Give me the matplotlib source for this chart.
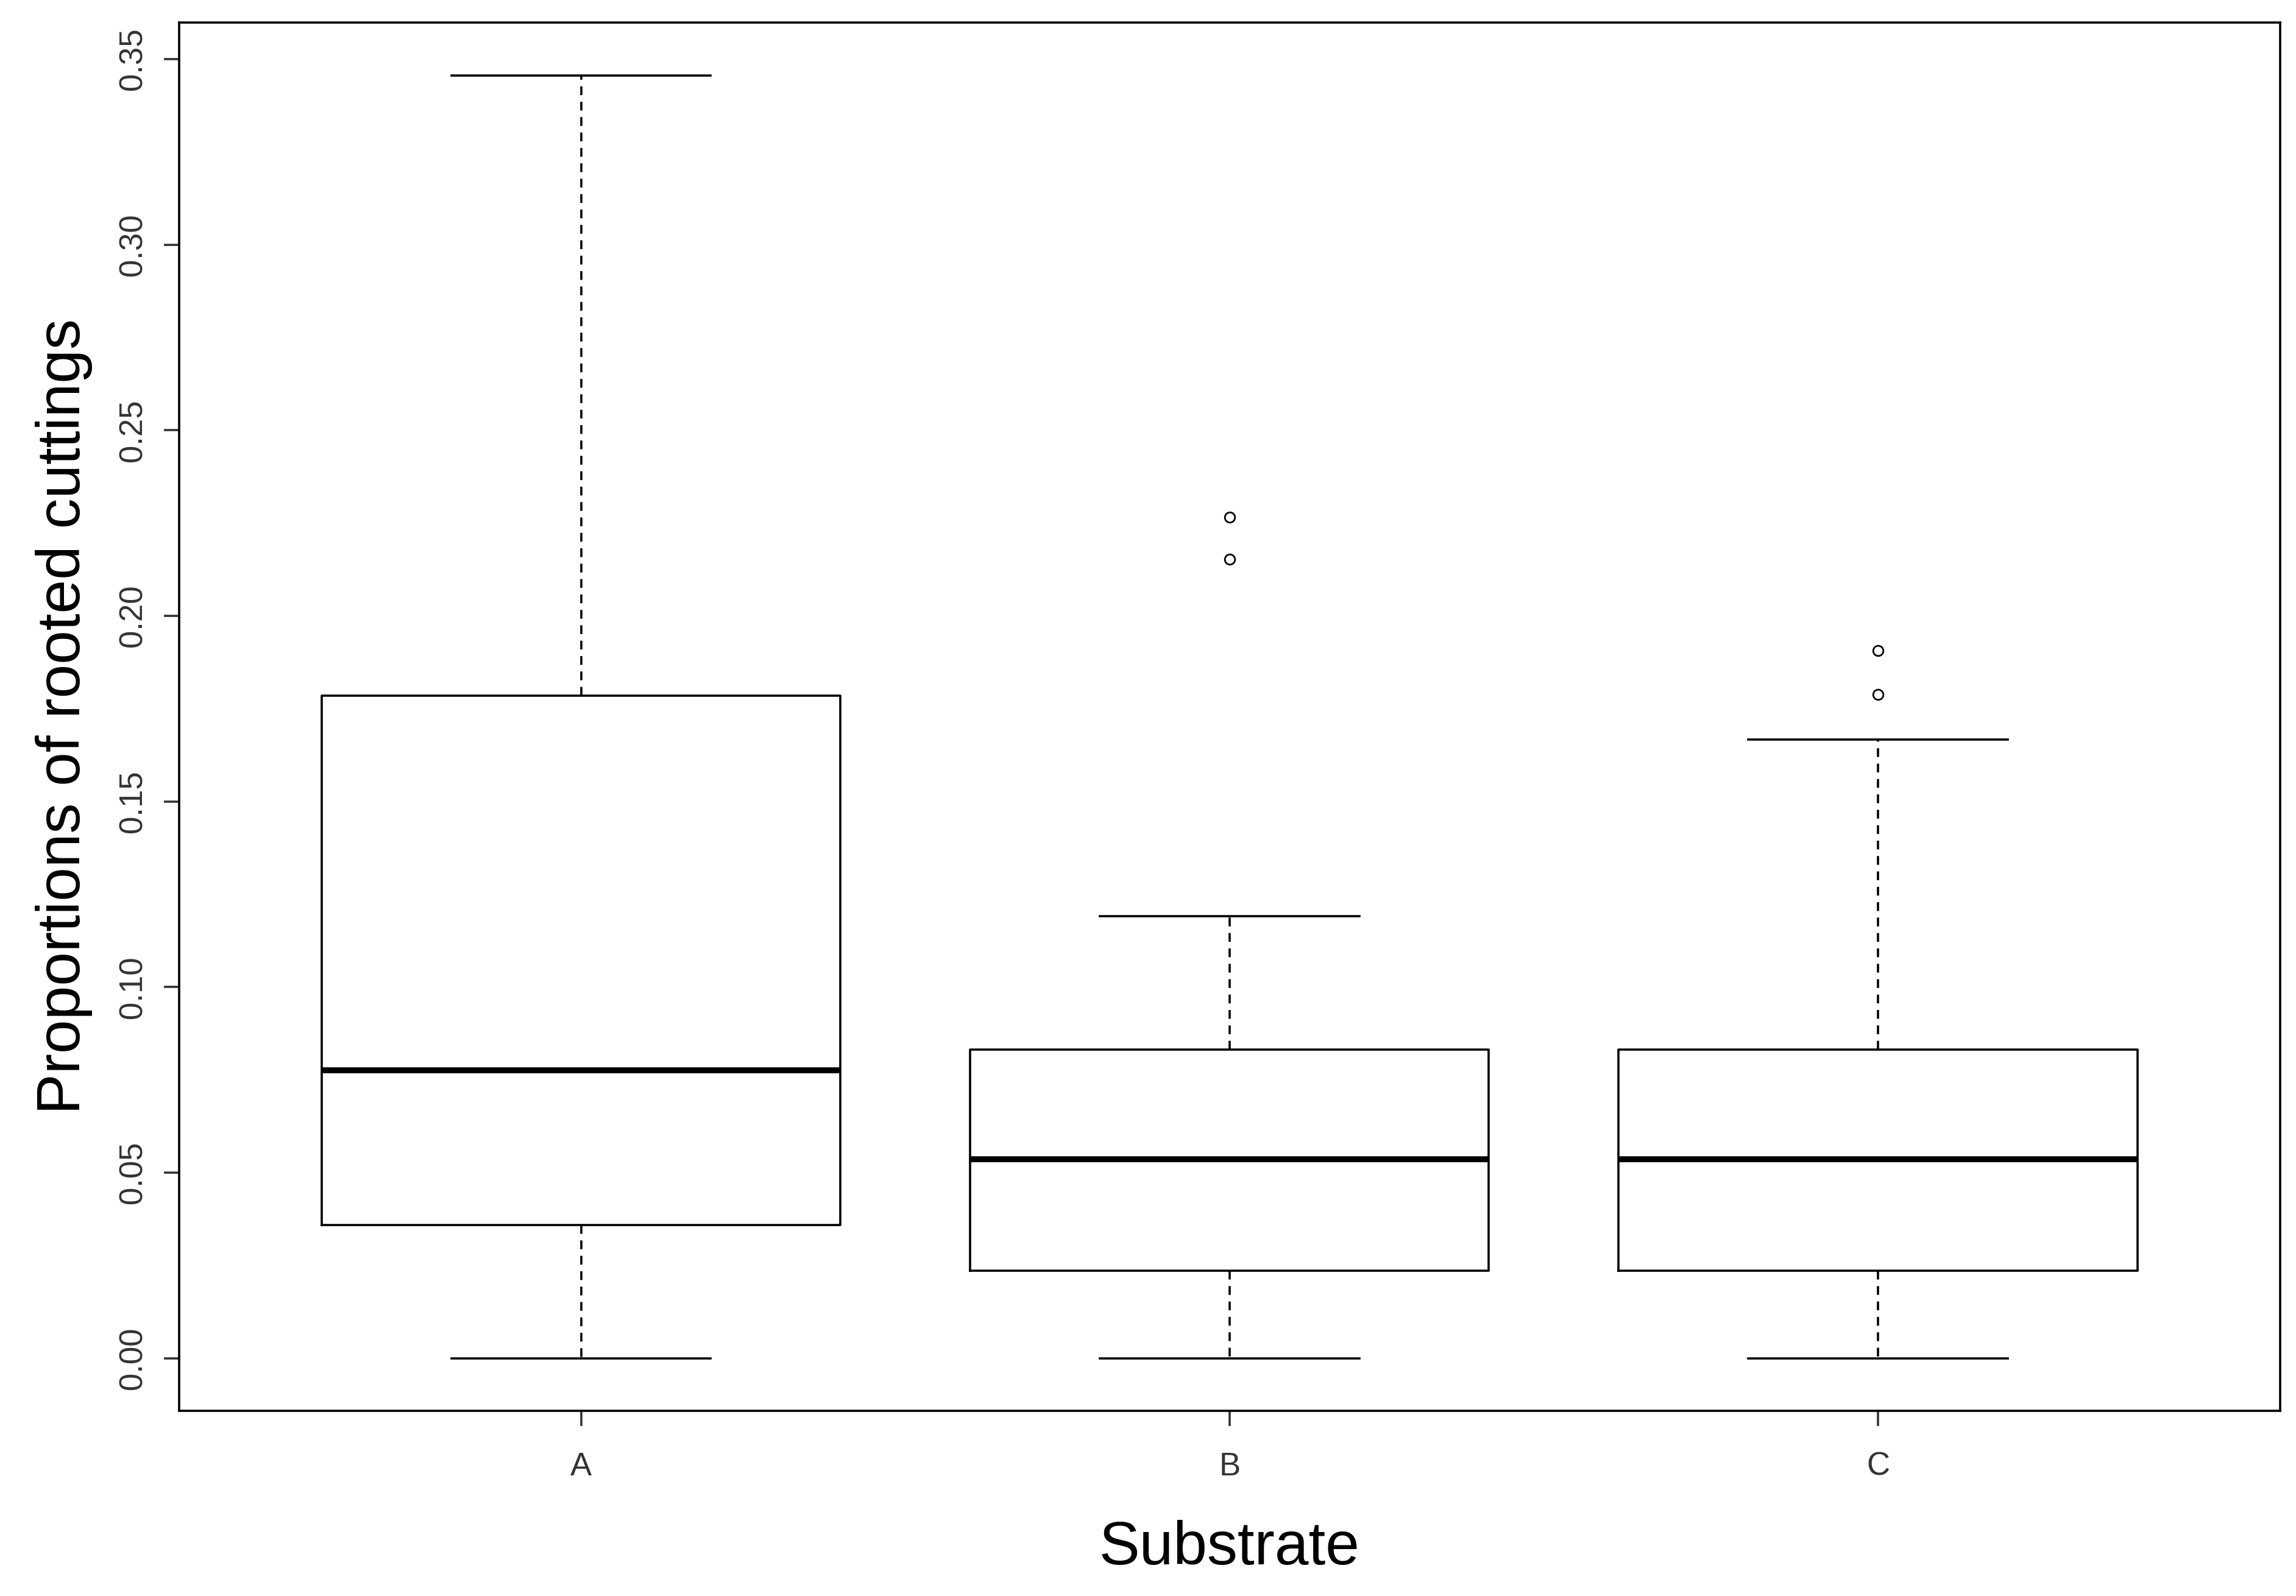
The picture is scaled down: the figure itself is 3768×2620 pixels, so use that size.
import matplotlib
matplotlib.use("Agg")
import matplotlib.pyplot as plt

categories = ["A", "B", "C"]
whislo = [0.0, 0.0, 0.0]
q1 = [0.0359, 0.0236, 0.0236]
med = [0.0776, 0.0536, 0.0536]
q3 = [0.1785, 0.0832, 0.0832]
whishi = [0.3456, 0.119, 0.1667]
fliers = [[], [0.2266, 0.2152], [0.1907, 0.1789]]
yticks = [0.00, 0.05, 0.10, 0.15, 0.20, 0.25, 0.30, 0.35]

stats = [dict(label=c, whislo=a, q1=b, med=m, q3=d, whishi=e, fliers=f)
         for c, a, b, m, d, e, f in zip(categories, whislo, q1, med, q3, whishi, fliers)]

plt.rcParams['font.family'] = ['Liberation Sans', 'DejaVu Sans']
fig = plt.figure(figsize=(37.68, 26.2), dpi=100)
ax = fig.add_axes([0.078, 0.116, 0.915, 0.87])
lw = 2.6
ax.bxp(stats, positions=[1, 2, 3], widths=0.8, showfliers=True,
       boxprops=dict(linewidth=lw, color='black'),
       medianprops=dict(linewidth=7, color='black'),
       whiskerprops=dict(linewidth=lw, color='black', linestyle=(0, (4, 3))),
       capprops=dict(linewidth=lw, color='black'),
       capwidths=0.4,
       flierprops=dict(marker='o', markersize=12, markerfacecolor='none',
                       markeredgecolor='black', markeredgewidth=2))
ax.set_xlim(0.38, 3.62)
ax.set_ylim(-0.0142, 0.3599)
ax.set_yticks(yticks)
ax.set_yticklabels([f"{v:.2f}" for v in yticks], rotation=90, va='center')
ax.tick_params(labelsize=38, length=18, width=lw, colors='#333333')
ax.tick_params(axis='x', pad=30)
ax.tick_params(axis='y', pad=18)
for s in ax.spines.values():
    s.set_linewidth(lw)
ax.set_xlabel("Substrate", fontsize=72, labelpad=45)
ax.set_ylabel("Proportions of rooted cuttings", fontsize=72, labelpad=30)
fig.savefig("out.png", dpi=100, facecolor='white')
